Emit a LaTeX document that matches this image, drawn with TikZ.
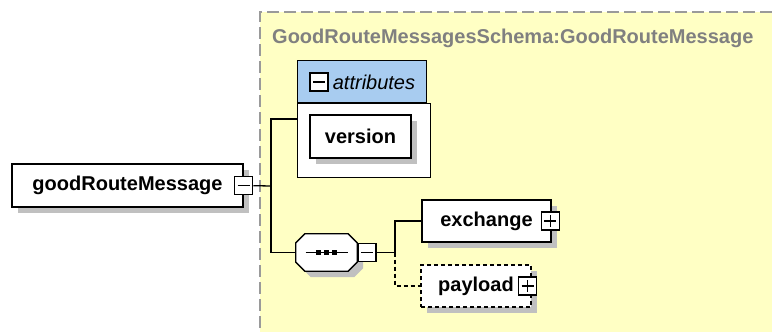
\documentclass[tikz,border=0pt]{standalone}
\usepackage{fontspec}
\setmainfont{Liberation Sans}
\usetikzlibrary{positioning,shadows}
\definecolor{schemabg}{HTML}{FFFFC4}
\definecolor{attrhead}{HTML}{A8CCF0}
\definecolor{titlegray}{HTML}{808080}
\definecolor{shadowgray}{HTML}{C0C0C0}
% octagon outline of a sequence compositor, round a node
\newcommand{\seqoutline}[1]{([xshift=9pt]#1.north west) -- ([xshift=-9pt]#1.north east) -- ([yshift=-9pt]#1.north east)
 -- ([yshift=9pt]#1.south east) -- ([xshift=-9pt]#1.south east) -- ([xshift=9pt]#1.south west)
 -- ([yshift=9pt]#1.south west) -- ([yshift=-9pt]#1.north west) -- cycle}

\begin{document}
\begin{tikzpicture}[x=1pt,y=-1pt,font=\fontsize{20}{22}\selectfont\bfseries,
 elem/.style={draw,line width=1.3pt,fill=white,inner sep=0pt,
   drop shadow={shadow xshift=6pt,shadow yshift=-6pt,fill=shadowgray,opacity=1}},
 toggle/.style={draw,line width=1.3pt,fill=white,minimum size=18pt,inner sep=0pt},
 minus/.style={toggle,path picture={\draw[line width=1.3pt] ([xshift=3pt]path picture bounding box.west) -- ([xshift=-3pt]path picture bounding box.east);}},
 plus/.style={toggle,path picture={\draw[line width=1.3pt] ([xshift=3pt]path picture bounding box.west) -- ([xshift=-3pt]path picture bounding box.east)
   ([yshift=-3pt]path picture bounding box.north) -- ([yshift=3pt]path picture bounding box.south);}},
 slot/.style={minimum width=61pt,minimum height=37pt,inner sep=0pt},
 wire/.style={line width=1.3pt},
 optional/.style={dash pattern=on 4pt off 3pt}]
\useasboundingbox (0,0) rectangle (772,332);
% schema area
\fill[schemabg] (260,12) rectangle (772,332);
\draw[line width=2pt,titlegray!80,dash pattern=on 12pt off 5pt] (772,12) -- (260,12) -- (260,332);
\node[anchor=base west,text=titlegray,inner sep=0pt] (title) at (272,43) {GoodRouteMessagesSchema:GoodRouteMessage};
% root element
\node[elem,minimum width=231pt,minimum height=43pt] (root) at (127.5,185.5) {goodRouteMessage};
\node[minus] (rootT) at (root.east) {};
% attributes
\node[draw,line width=1.3pt,fill=white,minimum width=133pt,minimum height=74pt,anchor=north west,inner sep=0pt] (attrbody) at (297,103) {};
\node[draw,line width=1.3pt,fill=attrhead,minimum width=129pt,minimum height=42pt,anchor=south west,inner sep=0pt] (attrhead) at (attrbody.north west) {};
\node[minus] (attrT) at (319,82) {};
\node[right=4pt of attrT,inner sep=0pt,font=\fontsize{20}{22}\selectfont\mdseries\itshape] (attrlbl) {attributes};
\node[elem,minimum width=101pt,minimum height=43pt] (version) at (360.5,136.5) {version};
% sequence
\node[slot] (seqshadow) at (332.5,258.5) {};
\node[slot] (seq) at (326.5,252.5) {};
\fill[shadowgray] \seqoutline{seqshadow};
\draw[line width=1.3pt,fill=white] \seqoutline{seq};
\draw[wire] ([xshift=-21pt]seq.center) -- ([xshift=21pt]seq.center);
\foreach \dx in {-8,0,8}
  \fill ([xshift=\dx pt]seq.center) +(-2.75pt,-2.75pt) rectangle +(2.75pt,2.75pt);
\node[minus,anchor=west] (seqT) at (seq.east) {};
% children
\node[elem,minimum width=129pt,minimum height=42pt] (exch) at (486.5,221) {exchange};
\node[plus] (exchT) at ([xshift=-1.5pt]exch.east) {};
\node[elem,optional,minimum width=110pt,minimum height=42pt] (pay) at (476,286) {payload};
\node[plus] (payT) at ([xshift=-4pt]pay.east) {};
% connectors
\coordinate (bus) at (271,186);
\coordinate (fork) at (395,252.5);
\draw[wire] (rootT) -- (bus);
\draw[wire] ([yshift=-16pt]attrbody.north west) -| (bus) |- (seq.west);
\draw[wire] (seqT) -- (fork);
\draw[wire] (fork) |- (exch);
\draw[wire,optional] (fork) |- (pay);
\end{tikzpicture}
\end{document}
